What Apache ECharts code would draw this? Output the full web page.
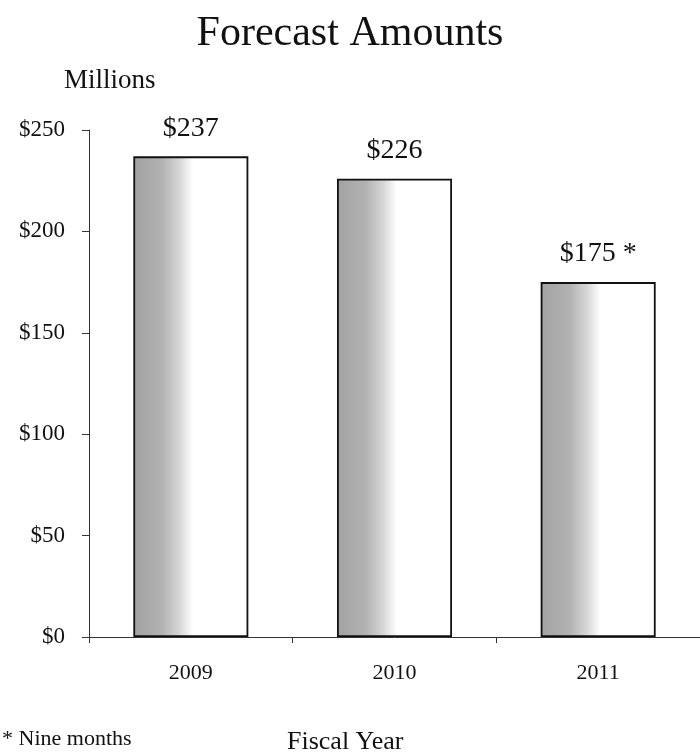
<!DOCTYPE html>
<html><head><meta charset="utf-8">
<script src="https://cdn.jsdelivr.net/npm/echarts@6/dist/echarts.min.js"></script>
<style>html,body{margin:0;padding:0;background:#fff}#c{width:700px;height:755px}</style>
</head><body><div id="c"></div>
<script>
const categories = ['2009', '2010', '2011'];
const values = [237, 226, 175];
const labelSuffix = ['', '', ' *'];
const yTicks = [0, 50, 100, 150, 200, 250];

const serif = '"Liberation Serif", "Times New Roman", serif';
const chart = echarts.init(document.getElementById('c'), null, {renderer: 'canvas'});
const barFill = new echarts.graphic.LinearGradient(0, 0, 1, 0, [
  {offset: 0, color: '#a2a2a2'},
  {offset: 0.25, color: '#b2b2b2'},
  {offset: 0.4, color: '#d6d6d6'},
  {offset: 0.52, color: '#ffffff'},
  {offset: 1, color: '#ffffff'}
]);
chart.setOption({
  animation: false,
  backgroundColor: '#fff',
  title: [
    {text: 'Forecast Amounts', left: 'center', top: 8,
     textStyle: {fontFamily: serif, fontSize: 42, fontWeight: 'normal', color: '#111'}},
    {text: 'Millions', left: 59, top: 62,
     textStyle: {fontFamily: serif, fontSize: 27, fontWeight: 'normal', color: '#111'}},
    {text: 'Fiscal Year', left: 282, top: 724,
     textStyle: {fontFamily: serif, fontSize: 26, fontWeight: 'normal', color: '#111'}},
    {text: '* Nine months', left: -3, top: 723,
     textStyle: {fontFamily: serif, fontSize: 22, fontWeight: 'normal', color: '#111'}}
  ],
  grid: {left: 89, top: 130, width: 615, bottom: 118, containLabel: false},
  xAxis: {
    type: 'category', data: categories,
    axisLine: {lineStyle: {color: '#333', width: 1}},
    axisTick: {show: true, length: 6, lineStyle: {color: '#333'}},
    axisLabel: {fontFamily: serif, fontSize: 22, color: '#111', margin: 25}
  },
  yAxis: {
    type: 'value', min: 0, max: 250, interval: 50,
    splitLine: {show: false},
    axisLine: {show: true, lineStyle: {color: '#333', width: 1}},
    axisTick: {show: true, length: 7, lineStyle: {color: '#333'}},
    axisLabel: {fontFamily: serif, fontSize: 23, color: '#111', margin: 24,
      formatter: v => yTicks.includes(v) ? '$' + v : ''}
  },
  series: [{
    type: 'bar', data: values, barWidth: 115,
    itemStyle: {color: barFill, borderColor: '#111', borderWidth: 1.8},
    label: {show: true, position: 'top', distance: 14,
      fontFamily: serif, fontSize: 28, color: '#111',
      formatter: p => '$' + p.value + labelSuffix[p.dataIndex]}
  }]
});
</script></body></html>
